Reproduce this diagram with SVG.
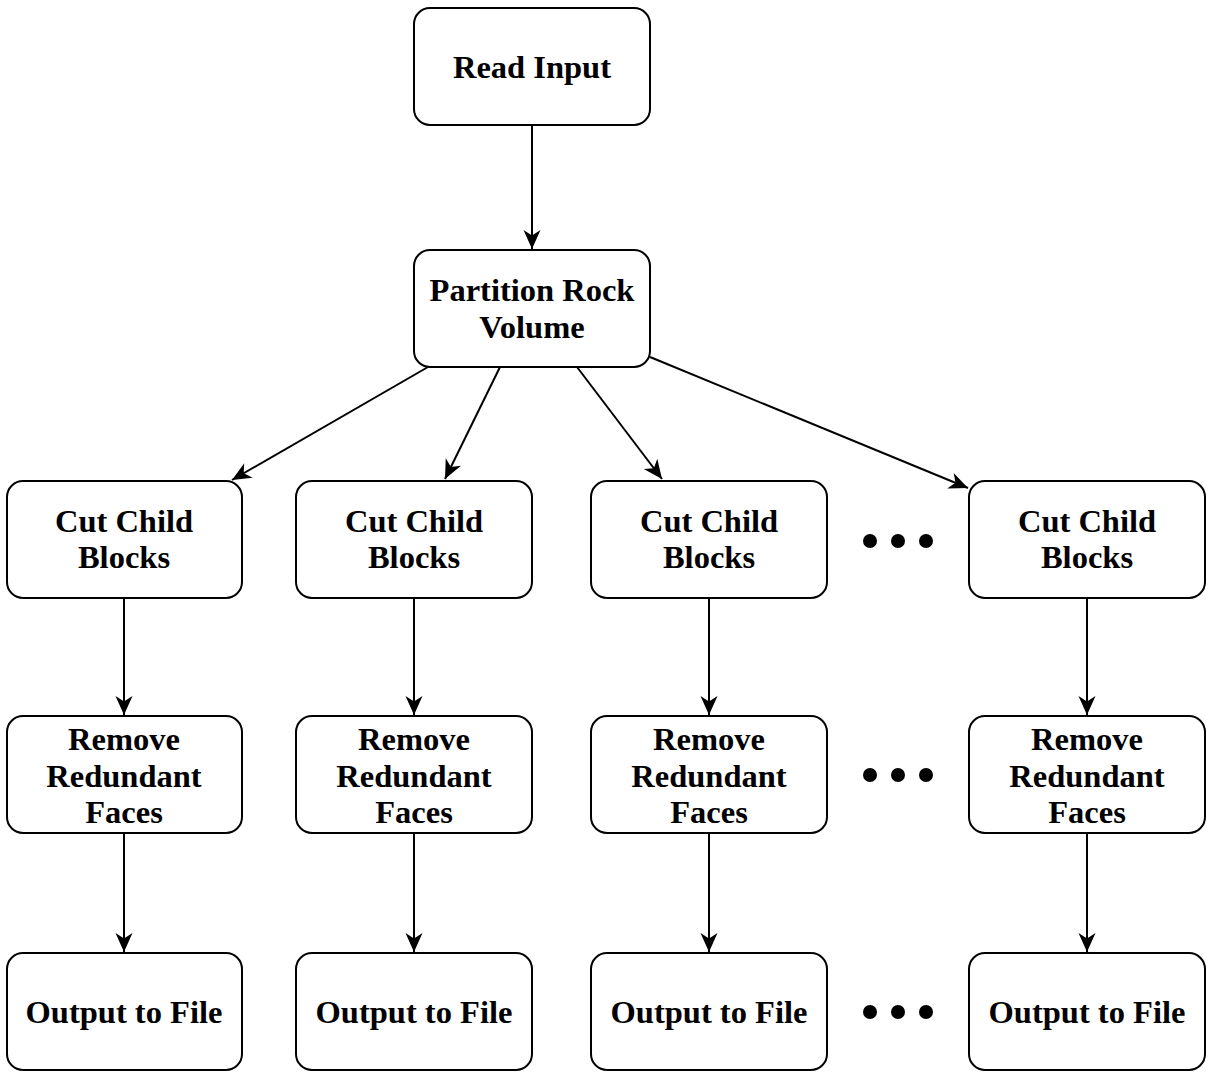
<svg xmlns="http://www.w3.org/2000/svg" width="1206" height="1072" viewBox="0 0 1206 1072">
  <style>
    .box { fill: #ffffff; stroke: #000000; stroke-width: 2; }
    .lbl { font-family: "Liberation Serif", "Times New Roman", serif; font-weight: bold; font-size: 32.5px; fill: #000000; text-anchor: middle; }
    .edge { fill: none; stroke: #000000; stroke-width: 2; marker-end: url(#arrow); }
    .dot { fill: #000000; }
  </style>
  <defs>
    <marker id="arrow" viewBox="-20 -10 22 20" refX="0" refY="0" markerWidth="22" markerHeight="20" markerUnits="userSpaceOnUse" orient="auto">
      <path d="M0,0 L-19,-8.5 L-13.5,0 L-19,8.5 Z" fill="#000000"/>
    </marker>
  </defs>
  <rect width="1206" height="1072" fill="#ffffff"/>

  <!-- connectors -->
  <g id="connectors">
    <line class="edge" x1="532" y1="125" x2="532" y2="249"/>
    <line class="edge" x1="428" y1="367" x2="232" y2="480"/>
    <line class="edge" x1="500" y1="367" x2="445" y2="479"/>
    <line class="edge" x1="577" y1="367" x2="662" y2="479"/>
    <line class="edge" x1="650" y1="357" x2="968" y2="488"/>
    <line class="edge" x1="124" y1="598" x2="124" y2="715"/>
    <line class="edge" x1="414" y1="598" x2="414" y2="715"/>
    <line class="edge" x1="709" y1="598" x2="709" y2="715"/>
    <line class="edge" x1="1087" y1="598" x2="1087" y2="715"/>
    <line class="edge" x1="124" y1="833" x2="124" y2="952"/>
    <line class="edge" x1="414" y1="833" x2="414" y2="952"/>
    <line class="edge" x1="709" y1="833" x2="709" y2="952"/>
    <line class="edge" x1="1087" y1="833" x2="1087" y2="952"/>
  </g>

  <!-- top of the pipeline -->
  <g id="read-input">
    <rect class="box" x="414" y="8" width="236" height="117" rx="16"/>
    <text class="lbl" x="532" y="78">Read Input</text>
  </g>
  <g id="partition">
    <rect class="box" x="414" y="250" width="236" height="117" rx="16"/>
    <text class="lbl" x="532" y="301">Partition Rock</text>
    <text class="lbl" x="532" y="338">Volume</text>
  </g>

  <!-- cut child blocks -->
  <g id="cut-1">
    <rect class="box" x="7" y="481" width="235" height="117" rx="16"/>
    <text class="lbl" x="124" y="532">Cut Child</text>
    <text class="lbl" x="124" y="568">Blocks</text>
  </g>
  <g id="cut-2">
    <rect class="box" x="296" y="481" width="236" height="117" rx="16"/>
    <text class="lbl" x="414" y="532">Cut Child</text>
    <text class="lbl" x="414" y="568">Blocks</text>
  </g>
  <g id="cut-3">
    <rect class="box" x="591" y="481" width="236" height="117" rx="16"/>
    <text class="lbl" x="709" y="532">Cut Child</text>
    <text class="lbl" x="709" y="568">Blocks</text>
  </g>
  <g id="cut-n">
    <rect class="box" x="969" y="481" width="236" height="117" rx="16"/>
    <text class="lbl" x="1087" y="532">Cut Child</text>
    <text class="lbl" x="1087" y="568">Blocks</text>
  </g>

  <!-- remove redundant faces -->
  <g id="remove-1">
    <rect class="box" x="7" y="716" width="235" height="117" rx="16"/>
    <text class="lbl" x="124" y="750">Remove</text>
    <text class="lbl" x="124" y="787">Redundant</text>
    <text class="lbl" x="124" y="823">Faces</text>
  </g>
  <g id="remove-2">
    <rect class="box" x="296" y="716" width="236" height="117" rx="16"/>
    <text class="lbl" x="414" y="750">Remove</text>
    <text class="lbl" x="414" y="787">Redundant</text>
    <text class="lbl" x="414" y="823">Faces</text>
  </g>
  <g id="remove-3">
    <rect class="box" x="591" y="716" width="236" height="117" rx="16"/>
    <text class="lbl" x="709" y="750">Remove</text>
    <text class="lbl" x="709" y="787">Redundant</text>
    <text class="lbl" x="709" y="823">Faces</text>
  </g>
  <g id="remove-n">
    <rect class="box" x="969" y="716" width="236" height="117" rx="16"/>
    <text class="lbl" x="1087" y="750">Remove</text>
    <text class="lbl" x="1087" y="787">Redundant</text>
    <text class="lbl" x="1087" y="823">Faces</text>
  </g>

  <!-- output to file -->
  <g id="output-1">
    <rect class="box" x="7" y="953" width="235" height="117" rx="16"/>
    <text class="lbl" x="124" y="1023">Output to File</text>
  </g>
  <g id="output-2">
    <rect class="box" x="296" y="953" width="236" height="117" rx="16"/>
    <text class="lbl" x="414" y="1023">Output to File</text>
  </g>
  <g id="output-3">
    <rect class="box" x="591" y="953" width="236" height="117" rx="16"/>
    <text class="lbl" x="709" y="1023">Output to File</text>
  </g>
  <g id="output-n">
    <rect class="box" x="969" y="953" width="236" height="117" rx="16"/>
    <text class="lbl" x="1087" y="1023">Output to File</text>
  </g>

  <!-- ellipses marking further columns -->
  <g id="ellipsis">
    <circle class="dot" cx="870" cy="541" r="7"/>
    <circle class="dot" cx="898" cy="541" r="7"/>
    <circle class="dot" cx="926" cy="541" r="7"/>
    <circle class="dot" cx="870" cy="775" r="7"/>
    <circle class="dot" cx="898" cy="775" r="7"/>
    <circle class="dot" cx="926" cy="775" r="7"/>
    <circle class="dot" cx="870" cy="1012" r="7"/>
    <circle class="dot" cx="898" cy="1012" r="7"/>
    <circle class="dot" cx="926" cy="1012" r="7"/>
  </g>
</svg>
